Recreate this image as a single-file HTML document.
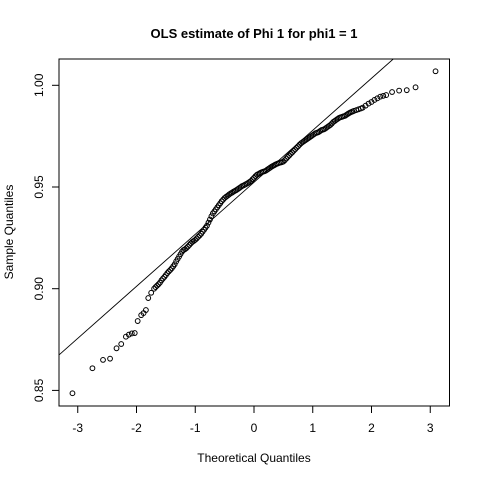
<!DOCTYPE html>
<html><head><meta charset="utf-8"><style>
html,body{margin:0;padding:0;background:#fff}
svg{display:block;font-family:"Liberation Sans",Arial,sans-serif}
</style></head><body>
<svg id="chart" width="480" height="480" viewBox="0 0 480 480">
<rect width="480" height="480" fill="#fff"/>
<text x="254" y="38" text-anchor="middle" font-size="13" font-weight="bold">OLS estimate of Phi 1 for phi1 = 1</text>
<text x="254" y="462" text-anchor="middle" font-size="12">Theoretical Quantiles</text>
<text transform="translate(13,232) rotate(-90)" text-anchor="middle" font-size="12">Sample Quantiles</text>
<g id="axes"></g>
<g id="marks"></g>
<rect x="59" y="59" width="390.5" height="347" fill="none" stroke="#000" stroke-width="1"/>
</svg>
<script>
const xTicks = [-3,-2,-1,0,1,2,3];
const yTicks = [0.85,0.90,0.95,1.00];
const yTickLabels = ["0.85","0.90","0.95","1.00"];
const theoretical = [-3.09,-2.75,-2.57,-2.45,-2.34,-2.26,-2.18,-2.13,-2.08,-2.03,-1.98,-1.92,-1.88,-1.84,-1.80,-1.75,
-1.70,-1.675,-1.65,-1.625,-1.60,-1.575,-1.55,-1.525,-1.50,-1.475,-1.45,-1.425,-1.40,-1.375,-1.35,-1.325,-1.30,-1.275,-1.25,-1.225,-1.20,-1.175,-1.15,-1.125,-1.10,-1.075,-1.05,-1.025,-1.00,-0.975,-0.95,-0.925,-0.90,-0.875,-0.85,-0.825,-0.80,-0.775,-0.75,-0.725,-0.70,-0.675,-0.65,-0.625,-0.60,-0.575,-0.55,-0.525,-0.50,-0.475,-0.45,-0.425,-0.40,-0.375,-0.35,-0.325,-0.30,-0.275,-0.25,-0.225,-0.20,-0.175,-0.15,-0.125,-0.10,-0.075,-0.05,-0.025,
0.00,0.025,0.05,0.075,0.10,0.125,0.15,0.175,0.20,0.225,0.25,0.275,0.30,0.325,0.35,0.375,0.40,0.425,0.45,0.475,0.50,0.525,0.55,0.575,0.60,0.625,0.65,0.675,0.70,0.725,0.75,0.775,0.80,0.825,0.85,0.875,0.90,0.925,0.95,0.975,1.00,1.025,1.05,1.075,1.10,1.125,1.15,1.175,1.20,1.225,1.25,1.275,1.30,1.325,1.35,1.375,1.40,1.425,1.45,1.475,1.50,1.525,1.55,1.575,1.60,1.625,1.65,1.675,1.70,
1.74,1.78,1.82,1.85,1.90,1.95,2.00,2.05,2.10,2.15,2.20,2.25,2.35,2.47,2.60,2.75,3.09];
const sample = [0.8486,0.8609,0.8650,0.8656,0.8707,0.8728,0.8764,0.8774,0.8780,0.8782,0.8841,0.8870,0.8880,0.8895,0.8954,0.8980,
0.9000,0.9008,0.9015,0.9022,0.9030,0.9041,0.9050,0.9058,0.9067,0.9077,0.9085,0.9092,0.9100,0.9110,0.9120,0.9134,0.9146,0.9158,0.9170,0.9182,0.9190,0.9194,0.9200,0.9207,0.9215,0.9223,0.9230,0.9235,0.9240,0.9247,0.9255,0.9262,0.9270,0.9280,0.9290,0.9300,0.9310,0.9325,0.9340,0.9356,0.9370,0.9380,0.9390,0.9400,0.9410,0.9420,0.9430,0.9438,0.9446,0.9452,0.9457,0.9463,0.9468,0.9472,0.9477,0.9481,0.9485,0.9490,0.9495,0.9500,0.9505,0.9508,0.9512,0.9516,0.9520,0.9525,0.9530,0.9538,
0.9545,0.9553,0.9560,0.9564,0.9568,0.9572,0.9575,0.9577,0.9580,0.9585,0.9590,0.9595,0.9600,0.9604,0.9608,0.9612,0.9615,0.9618,0.9620,0.9622,0.9625,0.9632,0.9640,0.9648,0.9655,0.9663,0.9670,0.9678,0.9685,0.9693,0.9700,0.9708,0.9715,0.9720,0.9725,0.9730,0.9735,0.9740,0.9745,0.9750,0.9755,0.9760,0.9765,0.9767,0.9770,0.9775,0.9780,0.9782,0.9785,0.9790,0.9795,0.9800,0.9805,0.9812,0.9820,0.9825,0.9830,0.9835,0.9840,0.9843,0.9845,0.9848,0.9850,0.9855,0.9860,0.9864,0.9868,0.9871,0.9874,
0.9878,0.9882,0.9886,0.9890,0.9900,0.9910,0.9918,0.9928,0.9936,0.9944,0.9948,0.9952,0.9967,0.9974,0.9976,0.9990,1.0069];
const lineIntercept = 0.9523;
const lineSlope = 0.02557;

const NS="http://www.w3.org/2000/svg";
const L=59,R=449.5,T=59,B=406;
const xs=q=>254+q*58.75;
const ys=v=>187-(v-0.95)*2034;
const axes=document.getElementById('axes'), marks=document.getElementById('marks');
function mk(tag,attrs,parent){const e=document.createElementNS(NS,tag);for(const k in attrs)e.setAttribute(k,attrs[k]);parent.appendChild(e);return e;}
xTicks.forEach(t=>{
  const l=mk('line',{x1:xs(t),x2:xs(t),y1:B,y2:B+7,stroke:'#000'},axes);
  
  
  const tx=mk('text',{x:xs(t),y:B+26,'text-anchor':'middle','font-size':'12'},axes);
  tx.textContent=String(t);
  
  
});
const xl=mk('line',{x1:xs(xTicks[0]),x2:xs(xTicks[xTicks.length-1]),y1:B,y2:B,stroke:'#000'},axes);


yTicks.forEach((t,i)=>{
  const l=mk('line',{x1:L-7,x2:L,y1:ys(t),y2:ys(t),stroke:'#000'},axes);
  
  
  const tx=mk('text',{transform:`translate(${L-16},${ys(t)}) rotate(-90)`,'text-anchor':'middle','font-size':'12'},axes);
  tx.textContent=yTickLabels[i];
  
  
});
const q0=(L-254)/58.75, q1=(R-254)/58.75;
let pts=[[q0,lineIntercept+lineSlope*q0],[q1,lineIntercept+lineSlope*q1]].map(([q,v])=>[xs(q),ys(v)]);
const cp=mk('clipPath',{id:'clip'},marks);
mk('rect',{x:L,y:T,width:R-L,height:B-T},cp);
const ql=mk('line',{x1:pts[0][0],y1:pts[0][1],x2:pts[1][0],y2:pts[1][1],stroke:'#000','stroke-width':'0.9','clip-path':'url(#clip)'},marks);


theoretical.forEach((q,i)=>{
  const c=mk('circle',{cx:xs(q),cy:ys(sample[i]),r:2.4,fill:'none',stroke:'#000','stroke-width':'1'},marks);
  
  
});
</script>
</body></html>
